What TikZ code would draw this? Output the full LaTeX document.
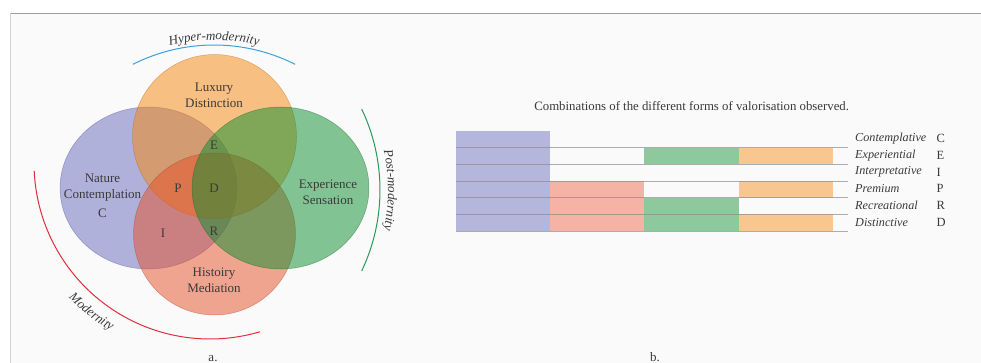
\documentclass[tikz,border=0pt]{standalone}
\usepackage{fontspec}
\setmainfont{Liberation Serif}
\usetikzlibrary{decorations.text}

\definecolor{vennblue}{HTML}{666ABE}
\definecolor{vennorange}{HTML}{F6860A}
\definecolor{vennred}{HTML}{E65028}
\definecolor{venngreen}{HTML}{0A8E2E}
\definecolor{cellblue}{HTML}{B4B6DC}
\definecolor{cellred}{HTML}{F4B3A4}
\definecolor{cellgreen}{HTML}{8DC99D}
\definecolor{cellorange}{HTML}{F8C790}
\definecolor{hyperblue}{HTML}{3AA3D8}
\definecolor{postgreen}{HTML}{27985A}
\definecolor{modred}{HTML}{DE303C}
\definecolor{textgray}{HTML}{3A3A3A}
\definecolor{panelbg}{HTML}{FAFAFA}
\newcommand{\arcfont}{\fontsize{13}{15}\selectfont\itshape}

\begin{document}
\begin{tikzpicture}[
	x=1pt, y=1pt,
	venn/.style = {fill=#1, fill opacity=0.5, draw=#1!75!black, draw opacity=0.45, line width=0.5pt},
	era/.style = {draw=#1, line width=1pt},
	erafont/.style = {decorate, decoration={text along path, text={|\arcfont|#1}, text align=center, text color=textgray}},
	vtext/.style = {font=\fontsize{13}{16}\selectfont, text=textgray, align=center, inner sep=0pt},
	vletter/.style = {font=\fontsize{13}{16}\selectfont, text=textgray, inner sep=0pt},
	rowword/.style = {font=\fontsize{12.2}{14}\selectfont\itshape, text=textgray, anchor=west, inner sep=0pt},
	rowabbr/.style = {font=\fontsize{12.5}{14}\selectfont, text=textgray, anchor=west, inner sep=0pt},
	rowline/.style = {draw=black!45, draw opacity=0.7, line width=0.6pt}
]

\useasboundingbox (0,0) rectangle (981,362);
\fill[white] (0,0) rectangle (981,362);
\fill[panelbg] (10.7,-2) rectangle (983,348.7);
\draw[black!18, line width=0.8pt] (10.7,-2) -- (10.7,348.7);
\draw[black!38, line width=0.8pt] (10.7,348.7) -- (983,348.7);

% a. the four forms
\draw[venn=vennblue] (148.5,174) ellipse [x radius=88.5, y radius=81];
\draw[venn=vennorange] (214.5,225.5) circle [radius=82];
\draw[venn=vennred] (214.5,128) circle [radius=81];
\draw[venn=venngreen] (280.5,174) ellipse [x radius=88.5, y radius=81];

\node[vtext] (luxury) at (214,266.5) {Luxury\\Distinction};
\node[vtext] (nature) at (102.5,166) {Nature\\Contemplation\\[3pt]C};
\node[vtext] (experience) at (328,170) {Experience\\Sensation};
\node[vtext] (history) at (214,82) {Histoiry\\Mediation};

\node[vletter] (E) at (214,217) {E};
\node[vletter] (P) at (178,174) {P};
\node[vletter] (D) at (214,174) {D};
\node[vletter] (I) at (163,129) {I};
\node[vletter] (R) at (214,131) {R};

% eras round the diagram
\draw[era=hyperblue] (214,137) ++(116.8:180) arc[start angle=116.8, end angle=63.2, radius=180];
\path[erafont=Hyper-modernity, shift={(214,137)}] (120:185) arc[start angle=120, end angle=60, radius=185];

\draw[era=postgreen] (192,172) ++(25.5:188) arc[start angle=25.5, end angle=-25.5, radius=188];
\path[erafont=Post-modernity, shift={(192,172)}] (30:196) arc[start angle=30, end angle=-30, radius=196];

\draw[era=modred] (210,199) ++(182.6:176) arc[start angle=182.6, end angle=286.5, radius=176];
\path[erafont=Modernity, shift={(210,199)}] (201:195) arc[start angle=201, end angle=262, radius=195];

\node[font=\fontsize{13}{15}\selectfont, text=textgray, anchor=base] (capa) at (213,0.5) {a.};

% b. combinations
\node[font=\fontsize{12.8}{15}\selectfont, text=textgray] (title) at (691.7,256) {Combinations of the different forms of valorisation observed.};

\fill[cellblue] (455.7,131) rectangle (550,231);
\fill[cellred] (550,131) rectangle (644.3,181);
\fill[cellgreen] (644.3,197.7) rectangle (738.7,214.3);
\fill[cellgreen] (644.3,131) rectangle (738.7,164.3);
\fill[cellorange] (738.7,197.7) rectangle (833.3,214.3);
\fill[cellorange] (738.7,164.3) rectangle (833.3,181);
\fill[cellorange] (738.7,131) rectangle (833.3,147.7);
\foreach \r in {1,...,6} {
	\draw[rowline] (455.7,231-16.67*\r) -- (848.3,231-16.67*\r);
}

\foreach \word/\abbr [count=\r from 0] in {Contemplative/C, Experiential/E, Interpretative/I, Premium/P, Recreational/R, Distinctive/D} {
	\node[rowword] (word\abbr) at (855,223.2-16.67*\r) {\word};
	\node[rowabbr] (abbr\abbr) at (936.5,223.2-16.67*\r) {\abbr};
}

\node[font=\fontsize{13}{15}\selectfont, text=textgray, anchor=base] (capb) at (655,0.5) {b.};

\end{tikzpicture}
\end{document}
